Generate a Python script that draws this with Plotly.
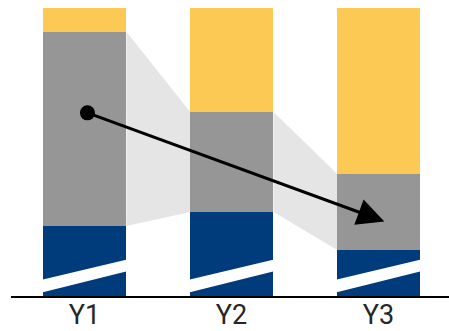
import plotly.graph_objects as go

categories = ["Y1", "Y2", "Y3"]
blue_vals = [24.3, 29.2, 16.0]
gray_vals = [67.4, 34.7, 26.4]
yellow_vals = [8.3, 36.1, 57.6]

arrow_start = [0.02, 63.6]
arrow_end = [2.04, 25.9]

# break stripe (value coordinates at left / right edge of each bar)
stripe_lo = [1.2, 8.6]
stripe_hi = [5.6, 12.7]

BLUE = "#003B7B"
GRAY = "#969696"
YELLOW = "#FCC954"
CONNECT = "#E5E5E5"
BAR_W = 0.56

fig = go.Figure()
fig.add_trace(go.Bar(x=list(range(3)), y=blue_vals, marker=dict(color=BLUE, line=dict(width=0)), width=BAR_W))
fig.add_trace(go.Bar(x=list(range(3)), y=gray_vals, marker=dict(color=GRAY, line=dict(width=0)), width=BAR_W))
fig.add_trace(go.Bar(x=list(range(3)), y=yellow_vals, marker=dict(color=YELLOW, line=dict(width=0)), width=BAR_W))

shapes = []
hw = BAR_W / 2
for i in range(len(categories) - 1):
    b0, t0 = blue_vals[i], blue_vals[i] + gray_vals[i]
    b1, t1 = blue_vals[i + 1], blue_vals[i + 1] + gray_vals[i + 1]
    x0 = i + hw + 0.006
    x1 = i + 1 - hw
    path = f"M {x0},{b0} L {x0},{t0} L {x1},{t1} L {x1},{b1} Z"
    shapes.append(dict(type="path", path=path, xref="x", yref="y", fillcolor=CONNECT,
                       line=dict(width=0), layer="below"))

for i in range(len(categories)):
    xl = i - hw - 0.01
    xr = i + hw + 0.01
    path = (f"M {xl},{stripe_lo[0]} L {xr},{stripe_lo[1]} L {xr},{stripe_hi[1]} "
            f"L {xl},{stripe_hi[0]} Z")
    shapes.append(dict(type="path", path=path, xref="x", yref="y", fillcolor="white",
                       line=dict(width=0), layer="above"))

fig.add_trace(go.Scatter(x=[arrow_start[0]], y=[arrow_start[1]], mode="markers",
                         marker=dict(color="black", size=15), cliponaxis=False))

fig.add_annotation(x=arrow_end[0], y=arrow_end[1], ax=arrow_start[0], ay=arrow_start[1],
                   xref="x", yref="y", axref="x", ayref="y", text="", showarrow=True,
                   arrowhead=2, arrowsize=1.8, arrowwidth=3, arrowcolor="black", standoff=0)

fig.update_layout(
    width=449, height=331,
    margin=dict(l=11, r=0, t=8, b=35),
    barmode="stack", bargap=0,
    showlegend=False,
    plot_bgcolor="white", paper_bgcolor="white",
    shapes=shapes,
    xaxis=dict(range=[-0.5, 2.48], tickmode="array", tickvals=list(range(3)), ticktext=categories,
               showline=True, linecolor="black", linewidth=2, showgrid=False, zeroline=False,
               automargin=False, ticklabelstandoff=-6,
               ticks="", tickfont=dict(family="Roboto", size=27, color="#262626"), fixedrange=True),
    yaxis=dict(range=[0, 100], visible=False, showgrid=False, zeroline=False, fixedrange=True,
               automargin=False),
)

fig.write_html("out.html", config=dict(displayModeBar=False))
